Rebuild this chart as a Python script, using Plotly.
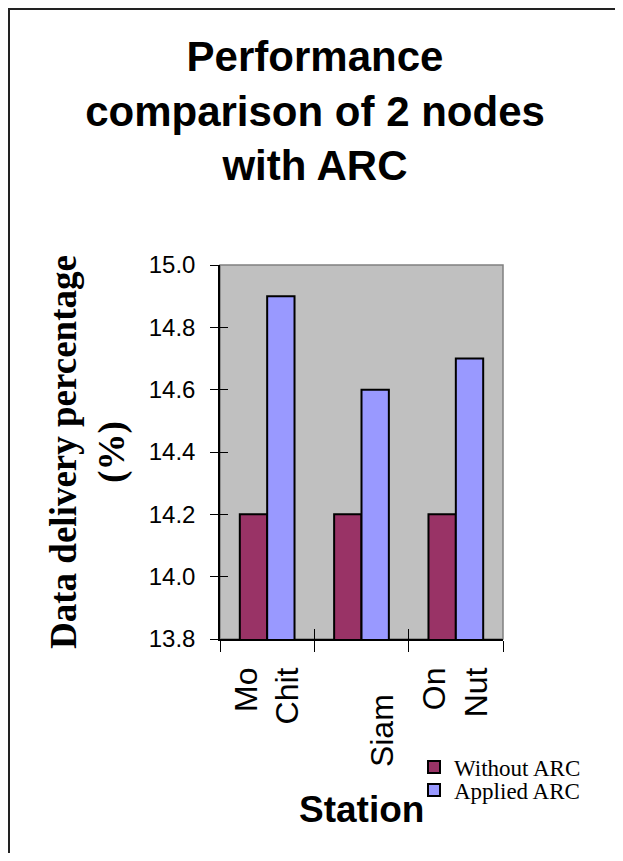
import plotly.graph_objects as go

# ---- data ----
stations = ["Mo Chit", "Siam", "On Nut"]
station_labels = ["Mo<br>Chit", "<br>Siam\u00a0\u00a0\u00a0", "On<br>Nut"]
without_arc = [14.2, 14.2, 14.2]
applied_arc = [14.9, 14.6, 14.7]
y_ticks = [13.8, 14.0, 14.2, 14.4, 14.6, 14.8, 15.0]
series_names = ["Without ARC", "Applied ARC"]

# figure sized so that it fits inside the page together with the body margin
W, H = 607, 845
ML, MT = 212, 257
MR, MB = W - 495, H - 631
PW, PH = W - ML - MR, H - MT - MB


def px_x(p):
    return (p - ML) / PW


def px_y(p):
    return (H - MB - p) / PH


SANS = "Liberation Sans, Arial, sans-serif"
SERIF = "Liberation Serif, Times New Roman, serif"

fig = go.Figure()
fig.add_trace(go.Bar(
    x=stations, y=without_arc, name=series_names[0],
    marker=dict(color="#993366", line=dict(color="black", width=2)),
    legend="legend",
))
fig.add_trace(go.Bar(
    x=stations, y=applied_arc, name=series_names[1],
    marker=dict(color="#9999FF", line=dict(color="black", width=2)),
    legend="legend2",
))
# helper axes for the inner half of the crossing tick marks
fig.add_trace(go.Scatter(x=[], y=[], xaxis="x2", yaxis="y2",
                         showlegend=False, hoverinfo="skip"))

fig.update_layout(
    width=W, height=H,
    margin=dict(l=ML, r=MR, t=MT, b=MB, autoexpand=False),
    paper_bgcolor="white",
    plot_bgcolor="#C0C0C0",
    bargap=0.42, bargroupgap=0,
    title=dict(
        text="Performance<br>comparison of 2 nodes<br>with ARC",
        font=dict(family=SANS, size=42, color="black", weight="bold"),
        x=307 / W, xanchor="center", xref="container",
        y=1 - 63 / H, yanchor="middle", yref="container",
    ),
    xaxis=dict(
        type="category",
        tickmode="array", tickvals=stations, ticktext=station_labels,
        tickangle=-90,
        tickfont=dict(family=SANS, size=32, color="black"),
        ticks="outside", tickson="boundaries", ticklen=11, tickcolor="black",
        ticklabelstandoff=14,
        showline=True, linecolor="black", linewidth=1.5,
        showgrid=False, zeroline=False, automargin=False,
    ),
    yaxis=dict(
        range=[13.8, 15.0],
        tickmode="array", tickvals=y_ticks, tickformat=".1f",
        tickfont=dict(family=SANS, size=24, color="black"),
        ticks="outside", ticklen=8, tickcolor="black",
        ticklabelstandoff=10,
        showline=True, linecolor="black", linewidth=1.5,
        showgrid=False, zeroline=False, automargin=False,
        title=dict(
            text="Data delivery percentage<br>(%)",
            font=dict(family=SERIF, size=37, color="black", weight="bold"),
            standoff=13,
        ),
    ),
    xaxis2=dict(
        overlaying="x", range=[-0.5, 2.5],
        tickmode="array", tickvals=[-0.5, 0.5, 1.5, 2.5],
        ticks="inside", ticklen=10, tickcolor="black",
        showticklabels=False, showline=False, showgrid=False, zeroline=False,
    ),
    yaxis2=dict(
        overlaying="y", range=[13.8, 15.0],
        tickmode="array", tickvals=y_ticks,
        ticks="inside", ticklen=8, tickcolor="black",
        showticklabels=False, showline=False, showgrid=False, zeroline=False,
    ),
    legend=dict(
        x=px_x(406), y=px_y(759), xanchor="left", yanchor="middle",
        font=dict(family=SERIF, size=23, color="black"),
        bgcolor="rgba(0,0,0,0)", borderwidth=0, itemwidth=30,
    ),
    legend2=dict(
        x=px_x(406), y=px_y(782), xanchor="left", yanchor="middle",
        font=dict(family=SERIF, size=23, color="black"),
        bgcolor="rgba(0,0,0,0)", borderwidth=0, itemwidth=30,
    ),
    annotations=[dict(
        text="Station", xref="paper", yref="paper",
        x=0.5, y=px_y(801), xanchor="center", yanchor="middle",
        showarrow=False,
        font=dict(family=SANS, size=37, color="black", weight="bold"),
    )],
    shapes=[
        dict(type="rect", xref="paper", yref="paper", x0=0, x1=1, y0=0, y1=1,
             line=dict(color="#808080", width=1.5), layer="below"),
        dict(type="line", xref="paper", yref="paper",
             x0=px_x(0), x1=px_x(W), y0=px_y(1), y1=px_y(1),
             line=dict(color="#222222", width=2), layer="above"),
        dict(type="line", xref="paper", yref="paper",
             x0=px_x(1), x1=px_x(1), y0=px_y(0), y1=px_y(H),
             line=dict(color="#222222", width=2), layer="above"),
    ],
    showlegend=True,
)

fig.write_html("out.html")
